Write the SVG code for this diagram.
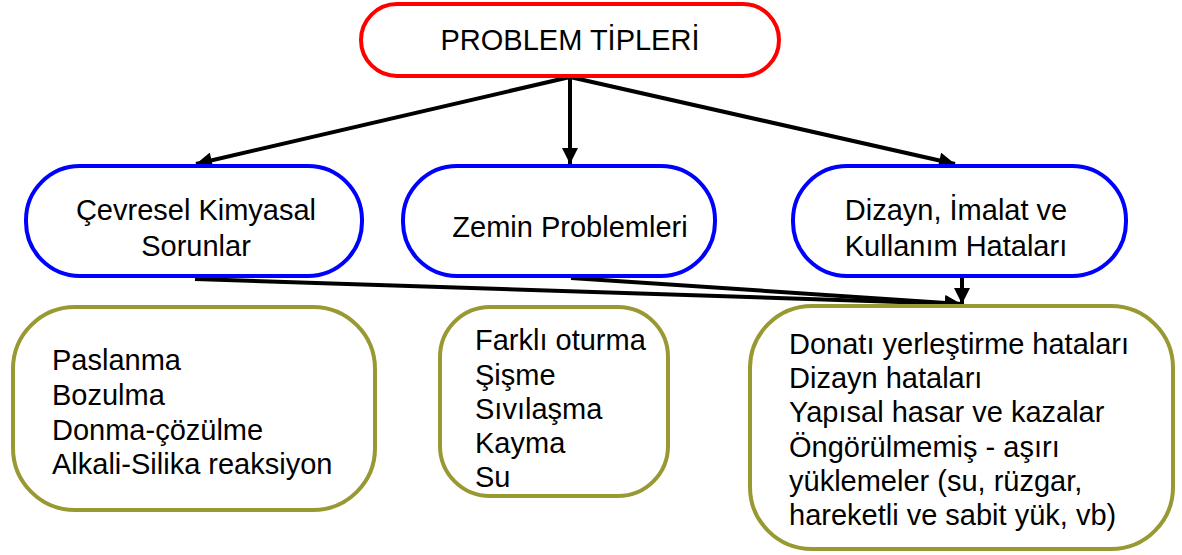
<svg xmlns="http://www.w3.org/2000/svg" width="1182" height="555" viewBox="0 0 1182 555">
  <style>
    .root { fill: #ffffff; stroke: #ff0000; stroke-width: 4; }
    .cat { fill: #ffffff; stroke: #0000ff; stroke-width: 4; }
    .list { fill: #ffffff; stroke: #999933; stroke-width: 4; }
    text { font-family: "Liberation Sans", Arial, sans-serif; font-size: 29px; fill: #000000; }
    .c { text-anchor: middle; }
    .edge { stroke: #000000; stroke-width: 4; fill: none; marker-end: url(#arrow); }
  </style>
  <defs>
    <marker id="arrow" viewBox="0 0 10 10" refX="10" refY="5" markerWidth="4.2" markerHeight="4" orient="auto" markerUnits="strokeWidth">
      <path d="M0,0 L10,5 L0,10 Z" fill="#000000"/>
    </marker>
  </defs>
  <rect width="1182" height="555" fill="#ffffff"/>

  <g id="connectors">
    <line class="edge" x1="570" y1="77" x2="196" y2="164"/>
    <line class="edge" x1="570" y1="77" x2="570" y2="164"/>
    <line class="edge" x1="570" y1="77" x2="955" y2="164"/>
    <line class="edge" x1="195" y1="279" x2="961" y2="304"/>
    <line class="edge" x1="571" y1="278" x2="961" y2="304"/>
    <line class="edge" x1="962" y1="278" x2="962" y2="304"/>
  </g>

  <g id="problem-tipleri">
    <rect class="root" x="361" y="4" width="418" height="72" rx="36"/>
    <text class="c" x="570" y="50">PROBLEM TİPLERİ</text>
  </g>

  <g id="cevresel">
    <rect class="cat" x="26" y="166" width="336" height="110" rx="54"/>
    <text class="c" x="196" y="220">Çevresel Kimyasal</text>
    <text class="c" x="196" y="256">Sorunlar</text>
  </g>

  <g id="zemin">
    <rect class="cat" x="403" y="166" width="312" height="110" rx="54"/>
    <text class="c" x="570" y="237">Zemin Problemleri</text>
  </g>

  <g id="dizayn">
    <rect class="cat" x="793" y="166" width="333" height="110" rx="54"/>
    <text class="c" x="956" y="220">Dizayn, İmalat ve</text>
    <text class="c" x="956" y="256">Kullanım Hataları</text>
  </g>

  <g id="cevresel-list">
    <rect class="list" x="13" y="307" width="362" height="203" rx="62"/>
    <text x="52" y="370">Paslanma</text>
    <text x="52" y="405">Bozulma</text>
    <text x="52" y="440">Donma-çözülme</text>
    <text x="52" y="474">Alkali-Silika reaksiyon</text>
  </g>

  <g id="zemin-list">
    <rect class="list" x="440" y="307" width="228" height="189" rx="50"/>
    <text x="475" y="350">Farklı oturma</text>
    <text x="475" y="385">Şişme</text>
    <text x="475" y="419">Sıvılaşma</text>
    <text x="475" y="453">Kayma</text>
    <text x="475" y="487">Su</text>
  </g>

  <g id="dizayn-list">
    <rect class="list" x="750" y="306" width="423" height="243" rx="62"/>
    <text x="789" y="354">Donatı yerleştirme hataları</text>
    <text x="789" y="388">Dizayn hataları</text>
    <text x="789" y="422">Yapısal hasar ve kazalar</text>
    <text x="789" y="457">Öngörülmemiş - aşırı</text>
    <text x="789" y="491">yüklemeler (su, rüzgar,</text>
    <text x="789" y="525">hareketli ve sabit yük, vb)</text>
  </g>
</svg>
